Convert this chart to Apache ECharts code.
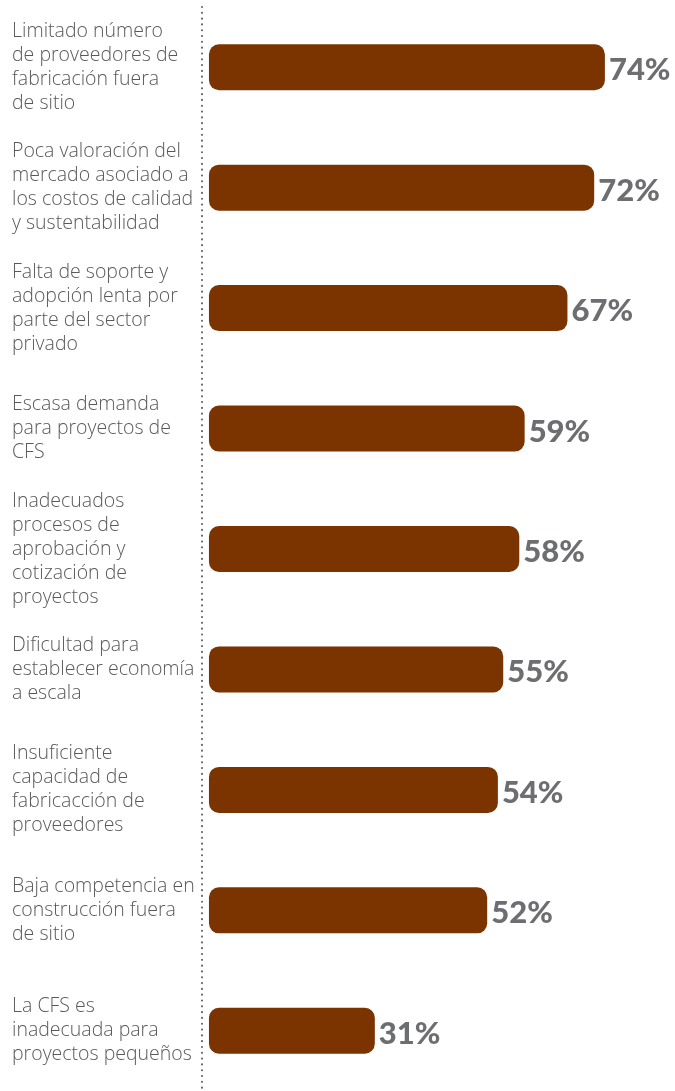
<!DOCTYPE html>
<html>
<head>
<meta charset="utf-8">
<style>
  html, body { margin: 0; padding: 0; background: #ffffff; }
  #chart { width: 675px; height: 1091px; }
</style>
<script src="https://cdn.jsdelivr.net/npm/echarts@6/dist/echarts.min.js"></script>
</head>
<body>
<div id="chart"></div>
<script>
// Barriers to off-site construction, share of respondents (%)
const categories = [
  'Limitado número\nde proveedores de\nfabricación fuera\nde sitio',
  'Poca valoración del\nmercado asociado a\nlos costos de calidad\ny sustentabilidad',
  'Falta de soporte y\nadopción lenta por\nparte del sector\nprivado',
  'Escasa demanda\npara proyectos de\nCFS',
  'Inadecuados\nprocesos de\naprobación y\ncotización de\nproyectos',
  'Dificultad para\nestablecer economía\na escala',
  'Insuficiente\ncapacidad de\nfabricacción de\nproveedores',
  'Baja competencia en\nconstrucción fuera\nde sitio',
  'La CFS es\ninadecuada para\nproyectos pequeños'
];
const values = [74, 72, 67, 59, 58, 55, 54, 52, 31];

const chart = echarts.init(document.getElementById('chart'));
chart.setOption({
  animation: false,
  grid: { left: 202, right: 38, top: 7, bottom: -5, containLabel: false },
  xAxis: {
    type: 'value', min: -1.3, max: 80, show: false
  },
  yAxis: {
    type: 'category',
    data: categories,
    inverse: true,
    axisLine: {
      show: true, onZero: false,
      // round-capped tiny dashes render as a dotted rule
      lineStyle: { color: '#6a6a6a', width: 2.2, type: [0.01, 5.8], cap: 'round' }
    },
    axisTick: { show: false },
    splitLine: { show: false },
    axisLabel: {
      margin: 190,
      align: 'left',
      fontFamily: 'Open Sans',
      fontWeight: 300,
      fontSize: 19.5,
      lineHeight: 24,
      color: '#58595b'
    }
  },
  series: [{
    type: 'bar',
    data: values,
    barWidth: 46,
    itemStyle: { color: '#7b3300', borderRadius: 10 },
    label: {
      show: true,
      position: 'right',
      distance: 4,
      offset: [0, 3],
      formatter: '{c}%',
      fontFamily: 'Lato',
      fontWeight: 900,
      fontSize: 31,
      color: '#6d6e71'
    }
  }]
});
</script>
</body>
</html>
